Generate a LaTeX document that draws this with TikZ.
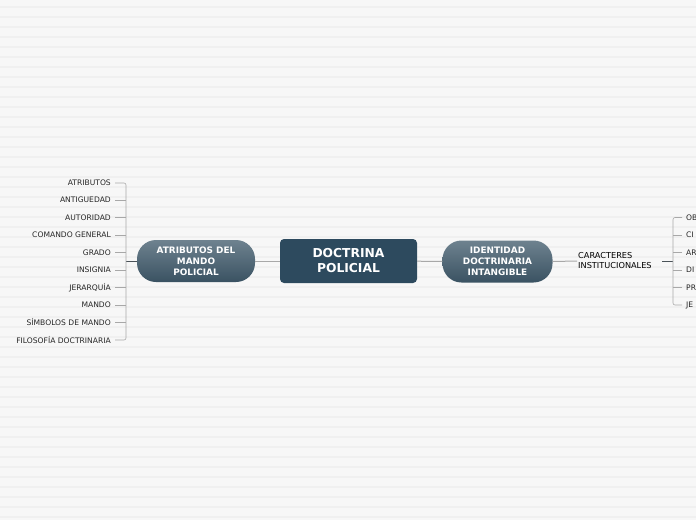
\documentclass[tikz,border=0pt]{standalone}
\usepackage{fontspec}
\setmainfont{DejaVu Sans}
\definecolor{paper}{HTML}{F7F7F7}
\definecolor{stripe}{HTML}{F0F0F0}
\definecolor{slate}{HTML}{2D4A5E}
\definecolor{pilltop}{HTML}{6E828F}
\definecolor{pillbot}{HTML}{3A5262}
\definecolor{twig}{HTML}{A8A8A8}
\definecolor{stem}{HTML}{4A5258}
\tikzset{
  rootbox/.style={fill=slate,rounded corners=4pt,minimum width=137pt,minimum height=44pt,
    text=white,font=\fontsize{12.3}{15}\selectfont\bfseries,align=center},
  pillbox/.style={top color=pilltop,bottom color=pillbot,rounded corners=19pt,minimum height=42pt,
    text=white,font=\fontsize{8.9}{11}\selectfont\bfseries,align=center,inner sep=0pt},
  leaf/.style={font=\fontsize{7.6}{8}\selectfont,text=black!85,inner sep=1pt},
  twigline/.style={draw=twig,line width=0.6pt},
  stemline/.style={draw=stem,line width=1pt}
}
\begin{document}
\begin{tikzpicture}[x=1pt,y=-1pt]
\fill[paper] (0,0) rectangle (696,520);
\foreach \k in {0,...,51} \fill[stripe] (0,6+10*\k) rectangle (696,7.5+10*\k);
\useasboundingbox (0,0) rectangle (696,520);
\clip (0,0) rectangle (696,520);

% main topics
\node[rootbox] (root) at (348.5,261) {DOCTRINA\\POLICIAL};
\node[pillbox,minimum width=118pt] (attr) at (196,261) {ATRIBUTOS DEL\\MANDO\\POLICIAL};
\node[pillbox,minimum width=110pt] (ident) at (497.5,261.5) {IDENTIDAD\\DOCTRINARIA\\INTANGIBLE};
\node[font=\fontsize{8.2}{10}\selectfont,align=left,anchor=west,inner sep=1pt] (carac) at (577,261) {CARACTERES\\INSTITUCIONALES};

\draw[twigline,line width=1pt] (root) -- (attr);
\draw[twigline,line width=1pt] (root) -- (ident);
\draw[twigline,line width=1pt] (ident.east) -- (carac.west);

% left branch
\coordinate (lk) at (126,261);
\draw[stemline] (attr.west) -- (lk);
\node[leaf,anchor=east] (a1) at (112,183) {ATRIBUTOS};
\node[leaf,anchor=east] (a2) at (112,200) {ANTIGUEDAD};
\node[leaf,anchor=east] (a3) at (112,217.5) {AUTORIDAD};
\node[leaf,anchor=east] (a4) at (112,235) {COMANDO GENERAL};
\node[leaf,anchor=east] (a5) at (112,252.5) {GRADO};
\node[leaf,anchor=east] (a6) at (112,270) {INSIGNIA};
\node[leaf,anchor=east] (a7) at (112,287.5) {JERARQUÍA};
\node[leaf,anchor=east] (a8) at (112,305) {MANDO};
\node[leaf,anchor=east] (a9) at (112,322.5) {SÍMBOLOS DE MANDO};
\node[leaf,anchor=east] (a10) at (112,340) {FILOSOFÍA DOCTRINARIA};
\draw[twigline,rounded corners=2pt] ([xshift=3pt]a1.east) -- (126,183) -- (126,340) -- ([xshift=3pt]a10.east);
\foreach \n in {a2,a3,a4,a5,a6,a7,a8,a9}
  \draw[twigline] ([xshift=3pt]\n.east) -- (\n.east -| lk);

% right branch
\coordinate (rs) at (662,261);
\coordinate (rk) at (673,261);
\draw[stemline] (rs) -- (rk);
\node[leaf,anchor=west] (c1) at (685,217.5) {OB};
\node[leaf,anchor=west] (c2) at (685,235) {CI};
\node[leaf,anchor=west] (c3) at (685,252.5) {AR};
\node[leaf,anchor=west] (c4) at (685,270) {DI};
\node[leaf,anchor=west] (c5) at (685,287.5) {PR};
\node[leaf,anchor=west] (c6) at (685,305) {JE};
\draw[twigline,rounded corners=2pt] ([xshift=-3pt]c1.west) -- (673,217.5) -- (673,305) -- ([xshift=-3pt]c6.west);
\foreach \n in {c2,c3,c4,c5}
  \draw[twigline] ([xshift=-3pt]\n.west) -- (\n.west -| rk);
\end{tikzpicture}
\end{document}
